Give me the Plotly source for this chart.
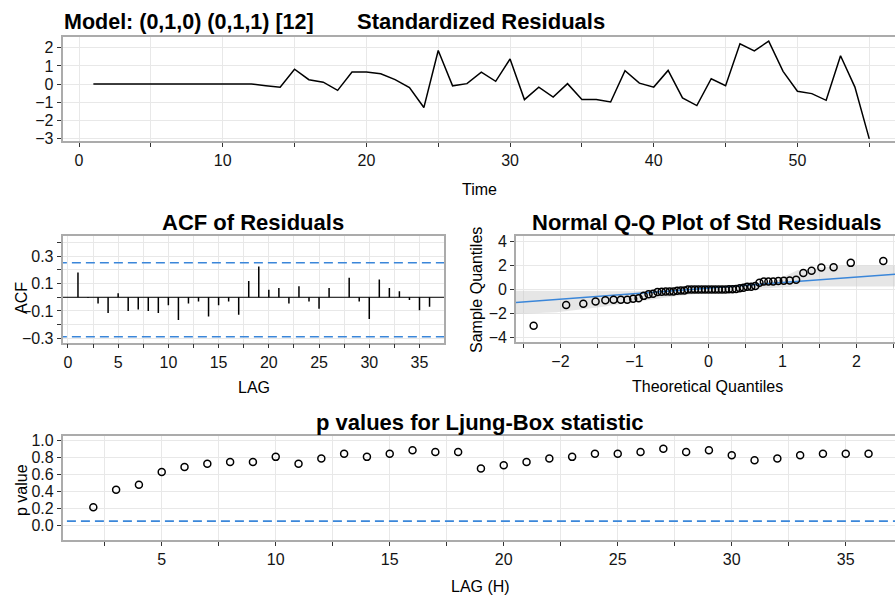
import plotly.graph_objects as go
import numpy as np
from statistics import NormalDist

# ---------------- data ----------------
TIME = list(range(1, 56))
STD_RESID = [0, 0, 0, 0, 0, 0, 0, 0, 0, 0, 0, 0,
             -0.09, -0.18, 0.82, 0.24, 0.10, -0.35, 0.66, 0.66, 0.57, 0.24,
             -0.20, -1.30, 1.85, -0.10, 0.02, 0.66, 0.15, 1.38, -0.86, -0.17,
             -0.72, 0.02, -0.86, -0.86, -0.99, 0.73, 0.05, -0.17, 0.75, -0.77,
             -1.19, 0.29, -0.09, 2.22, 1.83, 2.37, 0.70, -0.40, -0.53, -0.90,
             1.56, -0.17, -3.03]

ACF_LAGS = list(range(1, 37))
ACF_VALS = [0.18, -0.005, -0.045, -0.115, 0.03, -0.10, -0.09, -0.10, -0.115,
            -0.058, -0.165, -0.045, -0.03, -0.14, -0.058, -0.03, -0.128, 0.118,
            0.225, 0.055, 0.068, -0.045, 0.08, -0.03, -0.083, 0.068, 0.0,
            0.143, -0.03, -0.158, 0.13, 0.068, 0.043, -0.02, -0.095, -0.07]
ACF_BOUNDS = [0.252, -0.288]

PV_LAGS = list(range(2, 37))
PVALS = [0.214, 0.42, 0.48, 0.63, 0.69, 0.728, 0.75, 0.75, 0.81, 0.728, 0.79,
         0.848, 0.81, 0.848, 0.887, 0.868, 0.868, 0.673, 0.712, 0.75, 0.79,
         0.81, 0.848, 0.848, 0.868, 0.907, 0.868, 0.887, 0.829, 0.77, 0.79,
         0.829, 0.848, 0.848, 0.848]
PV_LEVEL = 0.05

# confidence band of the Q-Q plot
QQ_BAND_X = [-2.6, -2.05, -1.5, -1.0, -0.5, 0.0, 0.45, 0.9, 1.2, 1.8, 2.52]
QQ_BAND_LO = [-2.05, -1.9, -1.5, -1.05, -0.6, -0.25, -0.05, 0.15, 0.25, 0.25, 0.25]
QQ_BAND_HI = [-0.1, -0.1, -0.15, -0.15, 0.0, 0.25, 0.4, 0.7, 1.6, 2.0, 2.0]

# ---------------- styling ----------------
W, H = 895, 599
FONT = "Liberation Sans"
BORDER = "#ababab"
GRID = "#e8e8e8"
BLUE = "#3a86d9"
TXT = "#141414"


def px_x(p):
    return p / W


def px_y(p):
    return 1 - p / H


def axis(**kw):
    d = dict(showline=True, linecolor=BORDER, linewidth=1.6, ticks="outside",
             ticklen=4, tickcolor="#333333", tickwidth=1, showgrid=True,
             gridcolor=GRID, gridwidth=1.3, zeroline=False, automargin=False,
             tickfont=dict(size=16, color=TXT, family=FONT))
    d.update(kw)
    return d


fig = go.Figure()

# Standardized residuals
fig.add_trace(go.Scatter(x=TIME, y=STD_RESID, mode="lines",
                         line=dict(color="black", width=1.5),
                         xaxis="x", yaxis="y", showlegend=False))

# ACF
bx, by = [], []
for l, v in zip(ACF_LAGS, ACF_VALS):
    bx += [l, l, None]
    by += [0, v, None]
fig.add_trace(go.Scatter(x=bx, y=by, mode="lines",
                         line=dict(color="black", width=1.5),
                         xaxis="x2", yaxis="y2", showlegend=False))
fig.add_trace(go.Scatter(x=[-1, 40], y=[0, 0], mode="lines",
                         line=dict(color="black", width=1),
                         xaxis="x2", yaxis="y2", showlegend=False))
for b in ACF_BOUNDS:
    fig.add_trace(go.Scatter(x=[-1, 40], y=[b, b], mode="lines",
                             line=dict(color=BLUE, width=1.6, dash="9px,5px"),
                             xaxis="x2", yaxis="y2", showlegend=False))

# Q-Q plot
n = len(STD_RESID)
sample_q = sorted(STD_RESID)
a = 3 / 8 if n <= 10 else 0.5
theo_q = [NormalDist().inv_cdf((i - a) / (n + 1 - 2 * a)) for i in range(1, n + 1)]
q1, q3 = np.percentile(STD_RESID, [25, 75])
z1, z3 = NormalDist().inv_cdf(0.25), NormalDist().inv_cdf(0.75)
slope = (q3 - q1) / (z3 - z1)
inter = q1 - slope * z1

fig.add_trace(go.Scatter(x=QQ_BAND_X + QQ_BAND_X[::-1],
                         y=QQ_BAND_HI + QQ_BAND_LO[::-1], fill="toself",
                         fillcolor="rgba(200,200,200,0.45)",
                         line=dict(width=0), mode="lines",
                         xaxis="x3", yaxis="y3", showlegend=False))
lx = [-3, 3]
fig.add_trace(go.Scatter(x=lx, y=[inter + slope * v for v in lx], mode="lines",
                         line=dict(color=BLUE, width=1.5),
                         xaxis="x3", yaxis="y3", showlegend=False))
fig.add_trace(go.Scatter(x=theo_q, y=sample_q, mode="markers",
                         marker=dict(symbol="circle-open", size=7, color="black",
                                     line=dict(width=1.5, color="black")),
                         xaxis="x3", yaxis="y3", showlegend=False))

# Ljung-Box p values
fig.add_trace(go.Scatter(x=[-1, 40], y=[PV_LEVEL, PV_LEVEL], mode="lines",
                         line=dict(color=BLUE, width=1.6, dash="9px,5px"),
                         xaxis="x4", yaxis="y4", showlegend=False))
fig.add_trace(go.Scatter(x=PV_LAGS, y=PVALS, mode="markers",
                         marker=dict(symbol="circle-open", size=7, color="black",
                                     line=dict(width=1.5, color="black")),
                         xaxis="x4", yaxis="y4", showlegend=False))

minor_style = dict(ticks="outside", ticklen=4, tickcolor="#333333",
                   showgrid=True, gridcolor=GRID, gridwidth=1.3)

fig.update_layout(
    width=W, height=H,
    margin=dict(l=0, r=0, t=0, b=0, autoexpand=False),
    paper_bgcolor="white", plot_bgcolor="white",
    font=dict(family=FONT, color=TXT),
    xaxis=axis(domain=[px_x(62.5), 1.0], range=[-1.148, 56.79], mirror=True,
               tick0=0, dtick=10, anchor="y",
               minor=dict(dtick=5, tick0=0, **minor_style)),
    yaxis=axis(domain=[px_y(140.7), px_y(37.3)], range=[-3.13, 2.58],
               tick0=0, dtick=1, anchor="x"),
    xaxis2=axis(domain=[px_x(62.5), px_x(444)], range=[-0.54, 37.44],
                mirror=True, tick0=0, dtick=5, anchor="y2",
                minor=dict(dtick=2.5, tick0=0, **minor_style)),
    yaxis2=axis(domain=[px_y(342.5), px_y(236)], range=[-0.33, 0.447],
                mirror=True, tick0=0.1, dtick=0.2, tickformat=".1f", anchor="x2",
                minor=dict(dtick=0.1, tick0=0, **minor_style)),
    xaxis3=axis(domain=[px_x(516), 1.0], range=[-2.60, 2.52], mirror=True,
                tick0=0, dtick=1, anchor="y3",
                minor=dict(dtick=0.5, tick0=0, **minor_style)),
    yaxis3=axis(domain=[px_y(342), px_y(236)], range=[-4.375, 4.46],
                tick0=0, dtick=2, anchor="x3"),
    xaxis4=axis(domain=[px_x(62.7), 1.0], range=[0.657, 37.16], mirror=True,
                tick0=0, dtick=5, anchor="y4",
                minor=dict(dtick=2.5, tick0=0, **minor_style)),
    yaxis4=axis(domain=[px_y(540), px_y(436)], range=[-0.174, 1.057],
                tick0=0, dtick=0.2, tickformat=".1f", anchor="x4"),
)


def ann(text, x, y, size=16, bold=False, angle=0, xanchor="center"):
    fig.add_annotation(text=f"<b>{text}</b>" if bold else text,
                       x=px_x(x), y=px_y(y), xref="paper", yref="paper",
                       xanchor=xanchor, yanchor="middle", showarrow=False,
                       textangle=angle,
                       font=dict(size=size, family=FONT, color="black"))


ann("Model: (0,1,0) (0,1,1) [12]", 62, 22, size=21.5, bold=True, xanchor="left")
ann("Standardized Residuals", 481, 22, size=22, bold=True)
ann("Time", 479, 189)
ann("ACF of Residuals", 253, 222, size=22, bold=True)
ann("LAG", 254, 387)
ann("ACF", 21, 298, angle=-90)
ann("Normal Q-Q Plot of Std Residuals", 707, 222, size=22, bold=True)
ann("Theoretical Quantiles", 707, 386)
ann("Sample Quantiles", 476, 290, angle=-90)
ann("p values for Ljung-Box statistic", 480, 422, size=22, bold=True)
ann("p value", 22, 490, angle=-90)
ann("LAG (H)", 480, 586)

fig.write_html("out.html",
               config={"displayModeBar": False},
               post_script="document.body.style.margin='0px';"
                           "document.body.style.overflow='hidden';")
